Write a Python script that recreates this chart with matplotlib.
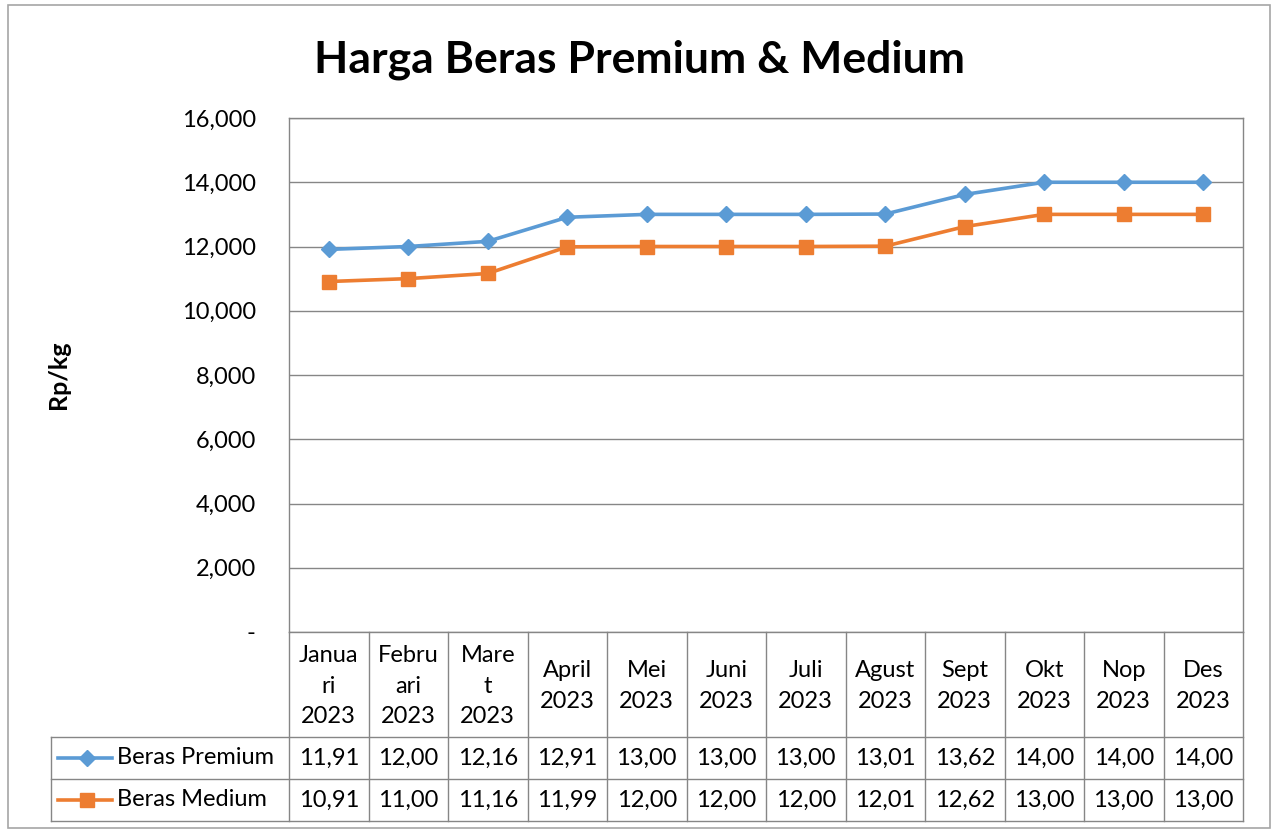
import matplotlib.pyplot as plt
import matplotlib.transforms as mtransforms
from matplotlib.patches import Rectangle
from matplotlib.lines import Line2D
import numpy as np

plt.rcParams['font.family'] = ['Lato', 'DejaVu Sans']

# data
months = ["Janua\nri\n2023", "Febru\nari\n2023", "Mare\nt\n2023", "April\n2023",
          "Mei\n2023", "Juni\n2023", "Juli\n2023", "Agust\n2023", "Sept\n2023",
          "Okt\n2023", "Nop\n2023", "Des\n2023"]
premium = [11910, 12000, 12160, 12910, 13000, 13000, 13000, 13010, 13620, 14000, 14000, 14000]
medium = [10910, 11000, 11160, 11990, 12000, 12000, 12000, 12010, 12620, 13000, 13000, 13000]
series_names = ["Beras Premium", "Beras Medium"]
yticks = [0, 2000, 4000, 6000, 8000, 10000, 12000, 14000, 16000]

blue = "#5B9BD5"
orange = "#ED7D31"
grid_c = "#868686"
fs = 17

W, H = 1272, 832
fig = plt.figure(figsize=(W / 100, H / 100), dpi=100)

def fy(py):
    return 1 - py / H

def fx(px):
    return px / W

# outer chart border
fig.patches.append(Rectangle((fx(8), fy(828)), fx(1262), 823 / H, transform=fig.transFigure,
                             fill=False, edgecolor="#a6a6a6", lw=1.2))

ax = fig.add_axes([fx(289), fy(632), fx(1243 - 289), (632 - 118) / H])
x = np.arange(len(months))
ax.plot(x, premium, color=blue, lw=2.6, marker="D", ms=8, zorder=3)
ax.plot(x, medium, color=orange, lw=2.6, marker="s", ms=10, zorder=3)
ax.set_xlim(-0.5, len(months) - 0.5)
ax.set_ylim(0, 16000)
ax.set_yticks(yticks)
ax.set_yticklabels(["-"] + [f"{v:,}" for v in yticks[1:]], fontsize=fs)
ax.set_xticks([])
ax.tick_params(axis="y", length=0, pad=24)
ax.grid(axis="y", color=grid_c, lw=1)
for s in ax.spines.values():
    s.set_color(grid_c)
    s.set_linewidth(1)

fig.text(fx(639), fy(60), "Harga Beras Premium & Medium", ha="center", va="center",
         fontsize=32, fontweight="bold")
fig.text(fx(59), fy(375), "Rp/kg", rotation=90, ha="center", va="center",
         fontsize=18, fontweight="bold")

# data table under the plot
tr = mtransforms.blended_transform_factory(ax.transData, fig.transFigure)
y_hdr_top, y_hdr_bot, y_r1, y_r2 = fy(632), fy(737), fy(779), fy(821)
line_kw = dict(color=grid_c, lw=1, clip_on=False)
for i in range(len(months) + 1):
    xe = i - 0.5
    ax.add_line(Line2D([xe, xe], [y_hdr_top, y_r2], transform=tr, **line_kw))
for yy in [y_hdr_bot, y_r1, y_r2]:
    fig.add_artist(Line2D([fx(51), fx(1243)], [yy, yy], transform=fig.transFigure, color=grid_c, lw=1))
fig.add_artist(Line2D([fx(51), fx(51)], [y_hdr_bot, y_r2], transform=fig.transFigure, color=grid_c, lw=1))

for i, m in enumerate(months):
    ax.text(i, (y_hdr_top + y_hdr_bot) / 2 - 0.002, m, transform=tr, ha="center", va="center",
            fontsize=fs, linespacing=1.55)

def trunc(v):
    return f"{v:,}"[:5]

rows = [(premium, blue, "D", 8, (y_hdr_bot + y_r1) / 2),
        (medium, orange, "s", 10, (y_r1 + y_r2) / 2)]
for (vals, c, mk, ms, yc), name in zip(rows, series_names):
    for i, v in enumerate(vals):
        ax.text(i, yc, trunc(v), transform=tr, ha="center", va="center", fontsize=fs)
    fig.add_artist(Line2D([fx(58), fx(112)], [yc, yc], transform=fig.transFigure, color=c, lw=2.6))
    fig.add_artist(Line2D([fx(87)], [yc], transform=fig.transFigure, color=c, marker=mk, ms=ms))
    fig.text(fx(117), yc, name, ha="left", va="center", fontsize=fs)

fig.savefig("out.png", dpi=100)
